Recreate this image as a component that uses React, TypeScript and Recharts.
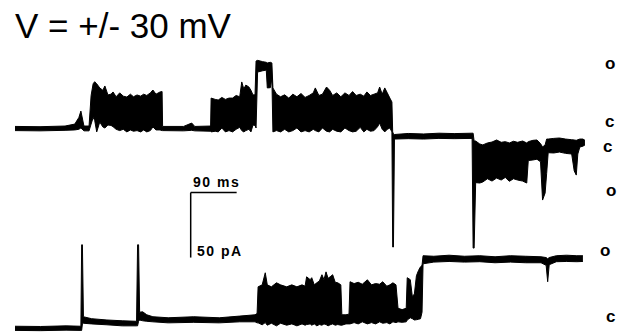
import React from "react";
import { ComposedChart, Area, XAxis, YAxis, ReferenceLine } from "recharts";

// trace at +30 mV then -30 mV (upper record), time in ms, current in pA
// relative to that trace's own closed level
const topTime = [
  0, 49, 98, 117, 125, 129, 135, 145, 149, 153, 156, 160, 166, 172, 176, 182, 188, 192, 198, 205,
  212, 219, 226, 232, 239, 246, 252, 258, 265, 270, 276, 284, 288, 289, 330, 346, 352, 383, 384, 392,
  398, 405, 412, 419, 426, 433, 440, 444, 448, 452, 458, 462, 466, 470, 472, 475, 485, 492, 494, 500,
  503, 505, 512, 520, 528, 536, 544, 552, 560, 568, 576, 584, 588, 595, 602, 610, 616, 622, 630, 638,
  646, 654, 661, 668, 676, 683, 689, 696, 703, 710, 714, 719, 724, 729, 734, 738, 739.5, 741, 743, 770,
  800, 830, 860, 895, 897, 899, 902, 910, 916, 925, 934, 943, 952, 960, 968, 976, 984, 994, 1002, 1005,
  1014, 1022, 1029, 1033, 1038, 1041, 1044, 1055, 1066, 1078, 1090, 1095, 1099, 1102, 1106, 1112, 1116,
];
const topHigh = [
  1.2, 1, 1.5, 3, 8, 13, 1.5, 1.5, 25, 34, 35.6, 34, 30.8, 29, 32.3, 25.4, 26, 27.7, 24, 27,
  24.5, 23.8, 26, 24, 25.4, 24.5, 26, 25, 27, 29.2, 26, 27.7, 28, 1.2, 1.2, 3.8, 1.2, 1.5, 23, 22,
  21.5, 23.5, 22, 23, 23, 25, 24, 35.4, 30, 33, 31.5, 29, 25.4, 25.5, 51.5, 52, 51, 50.5, 50, 50.5,
  50, 30.8, 26, 24, 25.5, 23, 26, 24, 26.5, 23.5, 25, 27, 30.8, 25, 26, 31.5, 29, 25, 27, 24,
  27, 25, 28, 25, 26, 24.5, 27.7, 25, 26, 27, 31.5, 26, 30.8, 27, 23, 20, -3, -4.6, -5, -4.2,
  -4.6, -4, -4.3, -4, -4, -10, -10, -12.3, -13, -11.5, -10.8, -9.2, -11, -10.5, -11.5, -10.2, -11, -10, -11.5, -10.5,
  -9.5, -9.2, -12, -14.6, -13, -8.5, -8.5, -8, -7.7, -8.5, -9, -9.2, -9.5, -9, -8.5, -8.5, -9.5,
];
const topLow = [
  -2, -2.2, -1.8, -1.5, -1, 0, -2.2, -2.2, 3, 8, 6, -3, 4.6, 0.8, 0, 2.3, 2, 1, -1, -2,
  -1, -3, -1.5, -2.5, -2, -3, -1.5, -3, -2, 0.8, -1.5, -1.5, -2, -2, -2.2, -1.8, -2.2, -2.5, -3, -2.5,
  -3, 0, -3, -2, -3, -1, 0.5, -2, -3, -2, -1, -3, 2.3, 2, 0, 43, 44, 44.5, 30.8, 31,
  38, -3, -2, -3, -1, -3, -2, 0, -3, -2, -3, -1, -2, -3, 0, -2.5, -3, -1, -2.5, -3,
  0, -2, -3, -2.5, 0.5, -3, -1, -2.5, -2, 1, 3.8, -1, -3, -1, 0, -3, -91.5, -91.5, -8.5, -8.2,
  -8.5, -8, -8.2, -8, -92.3, -92.3, -42, -42.3, -41.5, -39, -40.8, -38.5, -40, -38, -41, -39, -40, -40.8, -42.3, -25,
  -24.6, -24, -26, -55.4, -50, -35, -19, -19.2, -18.5, -19.5, -20, -33, -36.2, -20, -14.6, -14, -13,
];

// lower record, same units
const bottomTime = [
  0, 50, 100, 129, 130.5, 132, 134, 150, 180, 210, 238, 240, 242, 244, 250, 258, 270, 300, 350, 400,
  440, 470, 474, 476, 484, 490, 494, 502, 512, 520, 532, 542, 552, 562, 568, 571, 578, 581, 586, 591,
  596, 601, 605, 609, 613, 617, 622, 627, 632, 638, 640, 648, 654, 656, 664, 672, 680, 690, 698, 706,
  714, 720, 728, 734, 740, 746, 750, 758, 766, 768, 774, 778, 782, 786, 790, 794, 797, 799, 820, 850,
  880, 910, 940, 970, 1000, 1030, 1040, 1043, 1046, 1060, 1080, 1100, 1112,
];
const bottomHigh = [
  1.2, 1, 1.5, 1.2, 63.8, 63.8, 8.5, 7, 6, 5.4, 5, 63.8, 63.8, 12, 12.3, 10, 8.5, 7.7, 8.5, 7.7,
  9, 10, 11, 31.5, 33, 42.3, 33, 31.5, 34.6, 33, 31.5, 33, 31.5, 33, 32, 39.2, 37, 38.5, 33, 34.6,
  36, 40.8, 37, 43, 38, 39.2, 40.8, 35, 34.6, 33, 10, 10, 10.5, 35.4, 34, 35, 33.5, 36.9, 33, 34,
  33.5, 35.4, 32, 33, 34.6, 33, 15, 14, 15, 38.5, 37, 24, 26, 40, 44, 46.9, 48, 55.4, 55, 55.8,
  55, 55.4, 54.6, 55.4, 55, 54.6, 54, 53, 54, 55.4, 55.8, 55.4, 55.4,
];
const bottomLow = [
  -2, -2.2, -1.8, -2, -2, 3, 3.5, 3, 2.3, 1.5, 1.5, 1.5, 5, 6, 5.4, 5, 4.6, 3.8, 4.2, 3.8,
  4.6, 4.6, 3.8, 3.8, 2.3, 4, 2, 3.5, 1.5, 3.5, 2, 3, 1.5, 3, 2, 2.5, 3, 2, 3, 1.5,
  2.5, 2, 3, 2.5, 1.5, 2.3, 3, 2, 2.5, 2, 2, 3, 3, 3, 4, 3, 4.6, 3, 4, 3,
  4.6, 3.5, 4, 3, 4.6, 4, 4.6, 4.2, 4.6, 6, 7.7, 7, 6, 6.2, 6.5, 7, 12, 49.2, 50.5, 51,
  50.5, 50.8, 50, 50.5, 50, 50, 48, 35.4, 48.5, 50.8, 51, 50.8, 51,
];

const TOP_OFFSET = 153.6; // vertical separation of the two records, pA

const scaleTime = 90; // ms
const scaleCurrent = 50; // pA
const scaleOrigin = { t: 344, i: 104 };

const stateLabels = [
  { text: "o", left: 605, top: 55 },
  { text: "c", left: 605, top: 113 },
  { text: "c", left: 603, top: 138 },
  { text: "o", left: 606, top: 182 },
  { text: "o", left: 600, top: 242 },
  { text: "c", left: 606, top: 308 },
];

const toRows = (time: number[], hi: number[], lo: number[], offset: number) =>
  time.map((t, i) => ({ t, band: [lo[i] + offset, hi[i] + offset] }));

export default function App() {
  const topData = toRows(topTime, topHigh, topLow, TOP_OFFSET);
  const bottomData = toRows(bottomTime, bottomHigh, bottomLow, 0);

  const textBase: React.CSSProperties = {
    position: "absolute",
    fontFamily: "'Liberation Sans', Arial, sans-serif",
    lineHeight: 1,
    color: "#000",
    whiteSpace: "nowrap",
  };

  return (
    <div
      style={{
        position: "absolute",
        left: 0,
        top: 0,
        width: 630,
        height: 333,
        overflow: "hidden",
        background: "#fff",
      }}
    >
      <ComposedChart
        width={630}
        height={333}
        margin={{ top: 0, right: 43, bottom: 0, left: 15 }}
      >
        <XAxis type="number" dataKey="t" domain={[0, 1120]} hide allowDataOverflow />
        <YAxis type="number" domain={[-4, 252]} hide allowDataOverflow />
        <Area
          data={topData}
          dataKey="band"
          type="linear"
          stroke="#000"
          strokeWidth={1}
          fill="#000"
          fillOpacity={1}
          dot={false}
          activeDot={false}
          isAnimationActive={false}
        />
        <Area
          data={bottomData}
          dataKey="band"
          type="linear"
          stroke="#000"
          strokeWidth={1}
          fill="#000"
          fillOpacity={1}
          dot={false}
          activeDot={false}
          isAnimationActive={false}
        />
        <ReferenceLine
          segment={[
            { x: scaleOrigin.t, y: scaleOrigin.i },
            { x: scaleOrigin.t + scaleTime, y: scaleOrigin.i },
          ]}
          stroke="#000"
          strokeWidth={1.5}
        />
        <ReferenceLine
          segment={[
            { x: scaleOrigin.t, y: scaleOrigin.i },
            { x: scaleOrigin.t, y: scaleOrigin.i - scaleCurrent },
          ]}
          stroke="#000"
          strokeWidth={1.5}
        />
      </ComposedChart>

      <div style={{ ...textBase, left: 15, top: 8, fontSize: 35 }}>V = +/- 30 mV</div>
      <div style={{ ...textBase, left: 193, top: 175, fontSize: 14, fontWeight: 700, letterSpacing: 1.5 }}>
        {scaleTime} ms
      </div>
      <div style={{ ...textBase, left: 197, top: 244, fontSize: 14, fontWeight: 700, letterSpacing: 1.5 }}>
        {scaleCurrent} pA
      </div>
      {stateLabels.map((s, i) => (
        <div key={i} style={{ ...textBase, left: s.left, top: s.top, fontSize: 17, fontWeight: 700 }}>
          {s.text}
        </div>
      ))}
    </div>
  );
}
